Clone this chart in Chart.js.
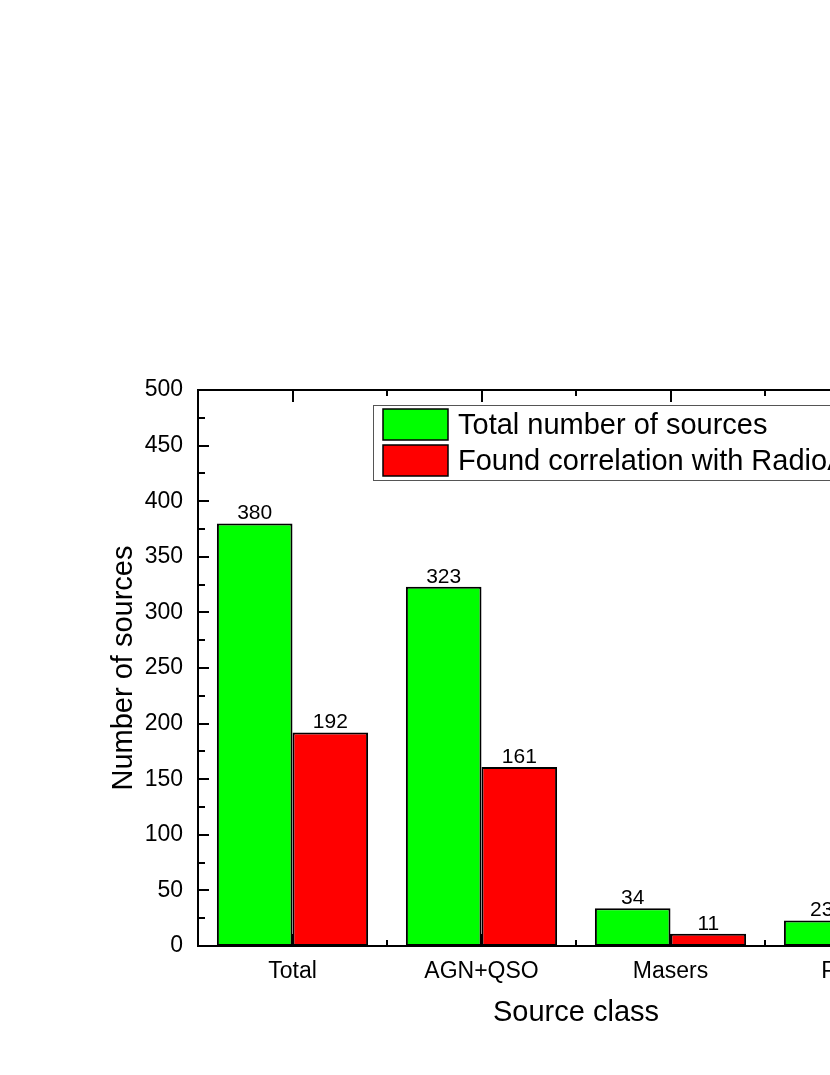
<!DOCTYPE html>
<html>
<head>
<meta charset="utf-8">
<script src="https://cdn.jsdelivr.net/npm/chart.js@4.4.1/dist/chart.umd.min.js"></script>
<style>
  html, body { margin: 0; padding: 0; background: #fff; overflow: hidden; }
  #wrap { position: absolute; left: 0; top: 0; width: 1100px; height: 1075px; }
</style>
</head>
<body>
<div id="wrap"><canvas id="barChart" width="1100" height="1075"></canvas></div>
<script>
// data
const categories = ["Total", "AGN+QSO", "Masers", "Pulsars"];
const totalSources = [380, 323, 34, 23];
const foundCorrelation = [192, 161, 11, 8];
const seriesNames = ["Total number of sources", "Found correlation with RadioAstron"];
const yTicks = [0, 50, 100, 150, 200, 250, 300, 350, 400, 450, 500];

const FONT = "'Liberation Sans', Arial, Helvetica, sans-serif";

// frame, inward ticks, value labels and the boxed legend
const decorations = {
    id: "decorations",
    beforeDatasetsDraw(chart) {
        const { ctx, chartArea: a, scales } = chart;
        const y = scales.y;
        ctx.save();
        ctx.strokeStyle = "#000";
        ctx.lineWidth = 2;
        ctx.beginPath();
        // y ticks (left and right, pointing inward)
        for (let v = 0; v <= 500; v += 25) {
            const py = Math.round(y.getPixelForValue(v));
            const len = v % 50 === 0 ? 11 : 7;
            ctx.moveTo(a.left, py); ctx.lineTo(a.left + len, py);
            ctx.moveTo(a.right, py); ctx.lineTo(a.right - len, py);
        }
        // x ticks: major at category centers, minor at boundaries
        const step = (a.right - a.left) / categories.length;
        for (let i = 0; i <= categories.length * 2; i++) {
            const px = Math.round(a.left + i * step / 2);
            const len = i % 2 === 1 ? 12 : 6;
            ctx.moveTo(px, a.top); ctx.lineTo(px, a.top + len);
            ctx.moveTo(px, a.bottom); ctx.lineTo(px, a.bottom - len);
        }
        ctx.stroke();
        ctx.restore();
    },
    afterDatasetsDraw(chart) {
        const { ctx, chartArea: a } = chart;
        ctx.save();
        // value labels above bars
        ctx.fillStyle = "#000";
        ctx.font = "21px " + FONT;
        ctx.textAlign = "center";
        ctx.textBaseline = "alphabetic";
        chart.data.datasets.forEach((ds, di) => {
            chart.getDatasetMeta(di).data.forEach((bar, i) => {
                ctx.fillText(String(ds.data[i]), bar.x, bar.y - 4);
            });
        });
        // frame
        ctx.strokeStyle = "#000";
        ctx.lineWidth = 2;
        ctx.strokeRect(a.left, a.top, a.right - a.left, a.bottom - a.top);

        // legend box
        ctx.font = "29px " + FONT;
        let textW = 0;
        chart.data.datasets.forEach(ds => { textW = Math.max(textW, ctx.measureText(ds.label).width); });
        const bx = 373, by = 405, bh = 75;
        ctx.fillStyle = "#fff";
        ctx.fillRect(bx, by, 85 + textW + 12, bh);
        ctx.strokeStyle = "#555";
        ctx.lineWidth = 1;
        ctx.strokeRect(bx + 0.5, by + 0.5, 85 + textW + 12, bh);
        chart.data.datasets.forEach((ds, di) => {
            const sy = by + 4 + di * 36;
            ctx.fillStyle = ds.backgroundColor;
            ctx.fillRect(383, sy, 65, 31);
            ctx.strokeStyle = "#000";
            ctx.lineWidth = 1.5;
            ctx.strokeRect(383, sy, 65, 31);
            ctx.fillStyle = "#000";
            ctx.textAlign = "left";
            ctx.textBaseline = "middle";
            ctx.fillText(ds.label, 458, sy + 17);
        });
        ctx.restore();
    }
};

new Chart(document.getElementById("barChart"), {
    type: "bar",
    data: {
        labels: categories,
        datasets: [
            {
                label: seriesNames[0],
                data: totalSources,
                backgroundColor: "#00ff00",
                borderColor: "#000",
                borderWidth: 2,
                borderSkipped: false
            },
            {
                label: seriesNames[1],
                data: foundCorrelation,
                backgroundColor: "#ff0000",
                borderColor: "#000",
                borderWidth: 2,
                borderSkipped: false
            }
        ]
    },
    options: {
        responsive: false,
        animation: false,
        devicePixelRatio: 1,
        datasets: { bar: { categoryPercentage: 0.8, barPercentage: 1.0 } },
        layout: { padding: { left: 100, top: 390, right: 146, bottom: 40 } },
        plugins: { legend: { display: false }, tooltip: { enabled: false } },
        scales: {
            x: {
                grid: { display: false },
                border: { display: false },
                ticks: { color: "#000", font: { family: FONT, size: 23 }, padding: 4, maxRotation: 0 },
                title: {
                    display: true, text: "Source class", color: "#000",
                    font: { family: FONT, size: 29 }, padding: { top: 0, bottom: 5 }
                },
                afterFit(scale) { scale.height = 89; }
            },
            y: {
                min: 0, max: 500,
                grid: { display: false },
                border: { display: false },
                afterBuildTicks(scale) { scale.ticks = yTicks.map(v => ({ value: v })); },
                ticks: { color: "#000", font: { family: FONT, size: 23 }, padding: 7 },
                title: {
                    display: true, text: "Number of sources", color: "#000",
                    font: { family: FONT, size: 29 }, padding: { top: 7, bottom: 0 }
                },
                afterFit(scale) { scale.width = 98; }
            }
        }
    },
    plugins: [decorations]
});
</script>
</body>
</html>
